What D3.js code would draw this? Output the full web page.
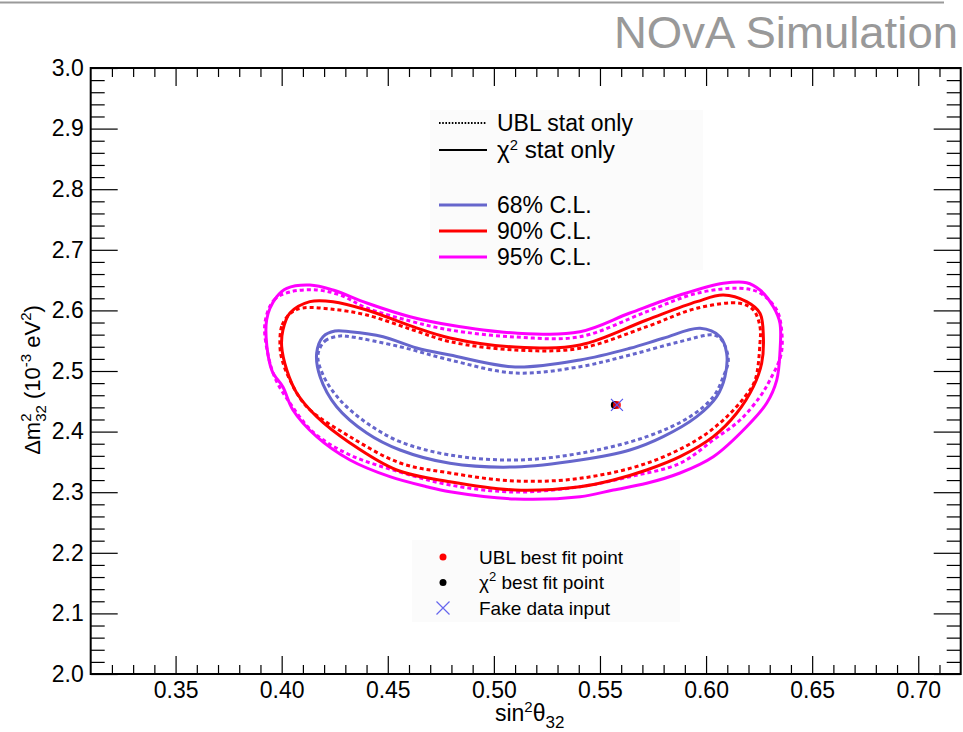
<!DOCTYPE html>
<html>
<head>
<meta charset="utf-8">
<script src="https://cdn.jsdelivr.net/npm/d3@7"></script>
<style>
  body { margin: 0; background: #fff; }
  text { font-family: "Liberation Sans", Arial, Helvetica, sans-serif; }
</style>
</head>
<body>
<svg id="chart" width="963" height="732"></svg>
<script>
// ---- axis ranges and ticks ----
const xDomain = [0.31, 0.72];
const yDomain = [2.0, 3.0];
const xMajorTicks = [0.35, 0.40, 0.45, 0.50, 0.55, 0.60, 0.65, 0.70];
const xMinorTicks = [0.32,0.33,0.34,0.36,0.37,0.38,0.39,0.41,0.42,0.43,0.44,0.46,0.47,0.48,0.49,
                     0.51,0.52,0.53,0.54,0.56,0.57,0.58,0.59,0.61,0.62,0.63,0.64,0.66,0.67,0.68,0.69,0.71];
const yMajorTicks = [2.0, 2.1, 2.2, 2.3, 2.4, 2.5, 2.6, 2.7, 2.8, 2.9, 3.0];
const yMinorTicks = [2.02,2.04,2.06,2.08,2.12,2.14,2.16,2.18,2.22,2.24,2.26,2.28,2.32,2.34,2.36,2.38,
                     2.42,2.44,2.46,2.48,2.52,2.54,2.56,2.58,2.62,2.64,2.66,2.68,2.72,2.74,2.76,2.78,
                     2.82,2.84,2.86,2.88,2.92,2.94,2.96,2.98];

// ---- confidence contours: [sin^2 theta_32, dm^2_32 (1e-3 eV^2)] ----
const cl95Chi2 = [
  [0.3929,2.5842],[0.3977,2.6226],[0.4024,2.6365],[0.4133,2.6419],[0.4242,2.6337],[0.4401,2.6122],
  [0.4605,2.5896],[0.4793,2.5759],[0.5100,2.5627],[0.5406,2.5649],[0.5641,2.5957],[0.5877,2.6254],
  [0.6081,2.6447],[0.6191,2.6457],[0.6254,2.6337],[0.6317,2.6061],[0.6348,2.5792],[0.6348,2.5297],
  [0.6333,2.4851],[0.6286,2.4472],[0.6191,2.4081],[0.6034,2.3586],[0.5877,2.3317],[0.5720,2.3147],
  [0.5563,2.3036],[0.5406,2.2926],[0.5100,2.2888],[0.4793,2.3008],[0.4683,2.3091],[0.4510,2.3256],
  [0.4322,2.3531],[0.4165,2.3916],[0.4053,2.4356],[0.4006,2.4736],[0.3953,2.5017]
];
const cl95Ubl = [
  [0.3921,2.5792],[0.3964,2.6172],[0.4039,2.6304],[0.4165,2.6337],[0.4275,2.6254],[0.4401,2.6040],
  [0.4605,2.5825],[0.4793,2.5677],[0.5100,2.5561],[0.5406,2.5566],[0.5720,2.5979],[0.5956,2.6282],
  [0.6160,2.6365],[0.6254,2.6287],[0.6333,2.6007],[0.6356,2.5677],[0.6353,2.5264],[0.6301,2.4851],
  [0.6254,2.4576],[0.6160,2.4191],[0.6034,2.3861],[0.5877,2.3477],[0.5641,2.3256],[0.5406,2.3091],
  [0.5100,2.3003],[0.4793,2.3119],[0.4558,2.3333],[0.4322,2.3614],[0.4148,2.3993],[0.4039,2.4472],
  [0.3973,2.4851],[0.3936,2.5264]
];
const cl90Chi2 = [
  [0.4000,2.5401],[0.4006,2.5677],[0.4039,2.5957],[0.4133,2.6144],[0.4242,2.6144],[0.4401,2.6007],
  [0.4619,2.5731],[0.4793,2.5545],[0.5100,2.5396],[0.5406,2.5429],[0.5720,2.5842],[0.5956,2.6144],
  [0.6081,2.6254],[0.6191,2.6144],[0.6254,2.5952],[0.6270,2.5566],[0.6262,2.5127],[0.6223,2.4741],
  [0.6144,2.4302],[0.6034,2.3916],[0.5877,2.3586],[0.5720,2.3366],[0.5563,2.3201],[0.5406,2.3091],
  [0.5100,2.3036],[0.4793,2.3173],[0.4542,2.3366],[0.4322,2.3812],[0.4165,2.4246],[0.4071,2.4637],
  [0.4024,2.5017]
];
const cl90Ubl = [
  [0.3992,2.5401],[0.4002,2.5759],[0.4049,2.5974],[0.4100,2.6040],[0.4228,2.6023],[0.4401,2.5924],
  [0.4619,2.5677],[0.4793,2.5484],[0.5100,2.5347],[0.5406,2.5375],[0.5720,2.5731],[0.5956,2.6035],
  [0.6160,2.6117],[0.6223,2.6007],[0.6254,2.5731],[0.6254,2.5462],[0.6231,2.4851],[0.6183,2.4576],
  [0.6081,2.4191],[0.5956,2.3861],[0.5720,2.3477],[0.5406,2.3229],[0.5100,2.3185],[0.4793,2.3317],
  [0.4558,2.3482],[0.4322,2.3916],[0.4118,2.4411],[0.4039,2.4851],[0.4002,2.5182]
];
const cl68Chi2 = [
  [0.4165,2.5297],[0.4195,2.5566],[0.4251,2.5660],[0.4322,2.5649],[0.4478,2.5566],[0.4636,2.5380],
  [0.4793,2.5264],[0.5100,2.5066],[0.5406,2.5182],[0.5641,2.5375],[0.5798,2.5540],[0.5972,2.5705],
  [0.6066,2.5566],[0.6097,2.5292],[0.6089,2.4906],[0.6050,2.4576],[0.5956,2.4246],[0.5798,2.3916],
  [0.5641,2.3696],[0.5406,2.3531],[0.5100,2.3416],[0.4793,2.3477],[0.4558,2.3696],[0.4401,2.3977],
  [0.4259,2.4411],[0.4181,2.4906]
];
const cl68Ubl = [
  [0.4171,2.5264],[0.4204,2.5495],[0.4275,2.5578],[0.4322,2.5566],[0.4558,2.5401],[0.4793,2.5182],
  [0.5100,2.4967],[0.5406,2.5071],[0.5641,2.5264],[0.5877,2.5484],[0.6034,2.5594],[0.6074,2.5512],
  [0.6105,2.5182],[0.6081,2.4906],[0.6034,2.4576],[0.5924,2.4246],[0.5720,2.3916],[0.5406,2.3642],
  [0.5100,2.3531],[0.4793,2.3614],[0.4558,2.3833],[0.4401,2.4142],[0.4275,2.4521],[0.4195,2.4934]
];

// best-fit points and the fake-data input
const ublBestFit = [0.558, 2.444];
const chi2BestFit = [0.557, 2.444];
const fakeDataInput = [0.558, 2.444];

// legend entries
const lineLegendLabels = ["UBL stat only", "stat only"];
const clLegendLabels = ["68% C.L.", "90% C.L.", "95% C.L."];
const pointLegendLabels = ["UBL best fit point", " best fit point", "Fake data input"];

// ---- layout ----
const W = 963, H = 732;
const plot = { left: 90.7, right: 960.7, top: 68, bottom: 674 };
const colors = { c68: "#6666cc", c90: "#ff0000", c95: "#ff00ff" };

const svg = d3.select("#chart");
const x = d3.scaleLinear().domain(xDomain).range([plot.left, plot.right]);
const y = d3.scaleLinear().domain(yDomain).range([plot.bottom, plot.top]);

svg.append("rect").attr("width", W).attr("height", H).attr("fill", "#fff");

// header rule and label
svg.append("line").attr("x1", 0).attr("x2", 944).attr("y1", 2.5).attr("y2", 2.5)
  .attr("stroke", "#9a9a9a").attr("stroke-width", 2);
svg.append("text").attr("x", 958).attr("y", 48).attr("text-anchor", "end")
  .attr("font-size", 44).attr("fill", "#999")
  .attr("textLength", 344).attr("lengthAdjust", "spacingAndGlyphs")
  .text("NOvA Simulation");

// legends' backgrounds
svg.append("rect").attr("x", 430).attr("y", 110).attr("width", 273).attr("height", 160).attr("fill", "#fbfbfb");
svg.append("rect").attr("x", 412).attr("y", 540).attr("width", 268).attr("height", 82).attr("fill", "#fbfbfb");

// ---- contours ----
const line = d3.line().x(d => x(d[0])).y(d => y(d[1])).curve(d3.curveCatmullRomClosed.alpha(0.5));
const contours = [
  { data: cl68Ubl, color: colors.c68, dash: "4,3" },
  { data: cl90Ubl, color: colors.c90, dash: "4,3" },
  { data: cl95Ubl, color: colors.c95, dash: "4,3" },
  { data: cl68Chi2, color: colors.c68, dash: null },
  { data: cl90Chi2, color: colors.c90, dash: null },
  { data: cl95Chi2, color: colors.c95, dash: null }
];
svg.append("g").selectAll("path").data(contours).join("path")
  .attr("d", d => line(d.data))
  .attr("fill", "none")
  .attr("stroke", d => d.color)
  .attr("stroke-width", 3)
  .attr("stroke-linejoin", "round")
  .attr("stroke-dasharray", d => d.dash);

// ---- best fit markers ----
function drawCross(g, cx, cy, r, color, w) {
  g.append("path").attr("d", `M${cx - r},${cy - r}L${cx + r},${cy + r}M${cx - r},${cy + r}L${cx + r},${cy - r}`)
    .attr("stroke", color).attr("stroke-width", w).attr("fill", "none");
}
const marks = svg.append("g");
marks.append("circle").attr("cx", x(chi2BestFit[0])).attr("cy", y(chi2BestFit[1])).attr("r", 4).attr("fill", "#000");
marks.append("circle").attr("cx", x(ublBestFit[0])).attr("cy", y(ublBestFit[1])).attr("r", 4).attr("fill", "#ff0000").attr("opacity", 0.85);
drawCross(marks, x(fakeDataInput[0]), y(fakeDataInput[1]), 6, "#5555ee", 1.2);

// ---- axes (ticks drawn inward on all four sides) ----
const fmtX = d3.format(".2f"), fmtY = d3.format(".1f");
const axes = svg.append("g").attr("font-size", 23);
function styleAxis(g) {
  g.select(".domain").remove();
  g.selectAll("line").attr("stroke", "#000").attr("stroke-width", 1.2);
  g.selectAll("text").attr("font-size", 23).attr("fill", "#000")
    .attr("font-family", '"Liberation Sans", Arial, sans-serif');
}
axes.append("g").attr("transform", `translate(0,${plot.bottom})`)
  .call(d3.axisBottom(x).tickValues(xMajorTicks).tickFormat(fmtX).tickSize(-18).tickPadding(8)).call(styleAxis);
axes.append("g").attr("transform", `translate(0,${plot.bottom})`)
  .call(d3.axisBottom(x).tickValues(xMinorTicks).tickFormat("").tickSize(-9)).call(styleAxis);
axes.append("g").attr("transform", `translate(0,${plot.top})`)
  .call(d3.axisTop(x).tickValues(xMajorTicks).tickFormat("").tickSize(-18)).call(styleAxis);
axes.append("g").attr("transform", `translate(0,${plot.top})`)
  .call(d3.axisTop(x).tickValues(xMinorTicks).tickFormat("").tickSize(-9)).call(styleAxis);
axes.append("g").attr("transform", `translate(${plot.left},0)`)
  .call(d3.axisLeft(y).tickValues(yMajorTicks).tickFormat(fmtY).tickSize(-27).tickPadding(7)).call(styleAxis);
axes.append("g").attr("transform", `translate(${plot.left},0)`)
  .call(d3.axisLeft(y).tickValues(yMinorTicks).tickFormat("").tickSize(-14)).call(styleAxis);
axes.append("g").attr("transform", `translate(${plot.right},0)`)
  .call(d3.axisRight(y).tickValues(yMajorTicks).tickFormat("").tickSize(-27)).call(styleAxis);
axes.append("g").attr("transform", `translate(${plot.right},0)`)
  .call(d3.axisRight(y).tickValues(yMinorTicks).tickFormat("").tickSize(-14)).call(styleAxis);

svg.append("rect").attr("x", plot.left).attr("y", plot.top)
  .attr("width", plot.right - plot.left).attr("height", plot.bottom - plot.top)
  .attr("fill", "none").attr("stroke", "#000").attr("stroke-width", 2);

// ---- axis titles ----
const xt = svg.append("text").attr("x", (plot.left + plot.right) / 2 + 4).attr("y", 721)
  .attr("text-anchor", "middle").attr("font-size", 23);
xt.append("tspan").text("sin");
xt.append("tspan").attr("font-size", 15).attr("dy", -9).text("2");
xt.append("tspan").attr("dy", 9).text("θ");
xt.append("tspan").attr("font-size", 17).attr("dy", 7).text("32");

const yt = svg.append("text").attr("transform", "translate(40,380) rotate(-90)")
  .attr("text-anchor", "middle").attr("font-size", 22);
yt.append("tspan").text("Δm");
yt.append("tspan").attr("font-size", 15).attr("dy", -9).text("2");
yt.append("tspan").attr("font-size", 15).attr("dx", -8.3).attr("dy", 15).text("32");
yt.append("tspan").attr("dy", -6).text(" (10");
yt.append("tspan").attr("font-size", 15).attr("dy", -9).text("-3");
yt.append("tspan").attr("dy", 9).text(" eV");
yt.append("tspan").attr("font-size", 15).attr("dy", -9).text("2");
yt.append("tspan").attr("dy", 9).text(")");

// ---- line-style / C.L. legend ----
const leg = svg.append("g").attr("font-size", 23);
const legRows = [
  { y: 123, stroke: "#000", dash: "1.6,1.6", w: 2, label: lineLegendLabels[0], chi: false },
  { y: 150, stroke: "#000", dash: null, w: 2, label: lineLegendLabels[1], chi: true },
  { y: 205, stroke: colors.c68, dash: null, w: 3, label: clLegendLabels[0], chi: false },
  { y: 231, stroke: colors.c90, dash: null, w: 3, label: clLegendLabels[1], chi: false },
  { y: 257, stroke: colors.c95, dash: null, w: 3, label: clLegendLabels[2], chi: false }
];
legRows.forEach(r => {
  leg.append("line").attr("x1", 439).attr("x2", 487).attr("y1", r.y).attr("y2", r.y)
    .attr("stroke", r.stroke).attr("stroke-width", r.w).attr("stroke-dasharray", r.dash);
  const t = leg.append("text").attr("x", 497).attr("y", r.y + 8)
    .attr("textLength", r.chi ? 118 : null).attr("lengthAdjust", "spacingAndGlyphs");
  if (r.chi) {
    t.append("tspan").text("χ");
    t.append("tspan").attr("font-size", 14).attr("dy", -8).text("2");
    t.append("tspan").attr("dy", 8).text(" " + r.label.trim());
  } else {
    t.text(r.label);
  }
});

// ---- marker legend ----
const leg2 = svg.append("g").attr("font-size", 19);
leg2.append("circle").attr("cx", 443).attr("cy", 557).attr("r", 3.5).attr("fill", "#ff0000");
leg2.append("circle").attr("cx", 443).attr("cy", 582.5).attr("r", 3.5).attr("fill", "#000");
drawCross(leg2, 443, 608, 6.5, "#6666ee", 1.2);
[557, 582.5, 608].forEach((cy, i) => {
  const t = leg2.append("text").attr("x", 479).attr("y", cy + 6.5);
  if (i === 1) {
    t.append("tspan").text("χ");
    t.append("tspan").attr("font-size", 13).attr("dy", -8).text("2");
    t.append("tspan").attr("dy", 8).text(pointLegendLabels[1]);
  } else {
    t.text(pointLegendLabels[i]);
  }
});
</script>
</body>
</html>
